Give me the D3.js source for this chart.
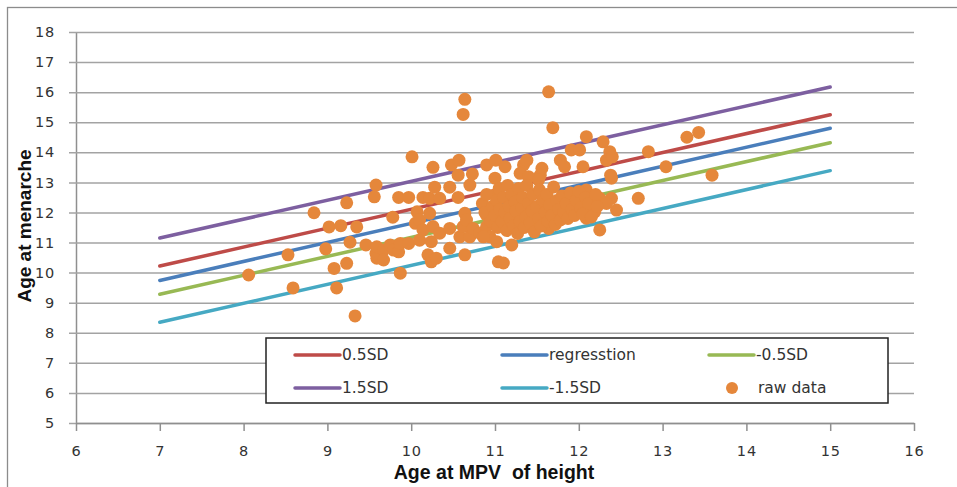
<!DOCTYPE html>
<meta charset="utf-8">
<style>
body { margin: 0; background: #fff; }
text { font-family: "DejaVu Sans", sans-serif; fill: #333; }
.tick text { font-size: 14.5px; letter-spacing: 0.8px; }
.title { font-family: "Liberation Sans", sans-serif; font-weight: bold; fill: #111; white-space: pre; }
.legend text { font-size: 15.5px; }
</style>
<svg width="957" height="487"></svg>
<script src="https://d3js.org/d3.v7.min.js"></script>
<script>

// fitted lines, drawn from age 7 to 15
var lineX = [7, 15];
var sd15 = [11.15, 16.17];
var sd05 = [10.22, 15.25];
var regress = [9.74, 14.80];
var sdm05 = [9.28, 14.32];
var sdm15 = [8.35, 13.39];

// raw data points (age at MPV of height, age at menarche)
var rawX = [8.06, 8.53, 8.59, 8.84, 8.98, 9.02, 9.08, 9.11, 9.16, 9.23, 9.23, 9.27, 9.33, 9.35, 9.46,
  9.58, 9.56, 9.58, 9.59, 9.59, 9.67, 9.67, 9.75, 9.78, 9.79, 9.85, 9.85, 9.87, 9.87, 9.97, 9.97,
  10.01, 10.05, 10.07, 10.10, 10.10, 10.14, 10.14, 10.20, 10.22, 10.22, 10.24, 10.24, 10.26, 10.26,
  10.28, 10.30, 10.34, 10.34, 10.46, 10.46, 10.46, 10.48, 10.56, 10.56, 10.57, 10.58, 10.62, 10.64,
  10.62, 10.64, 10.64, 10.66, 10.70, 10.70, 10.73, 10.74, 10.82, 10.90, 10.90, 10.90, 10.94, 10.98,
  11.00, 11.00, 11.01, 11.02, 11.04, 11.10, 11.12, 11.20, 11.34, 11.38, 11.56, 11.54, 11.64, 11.69,
  11.64, 11.78, 11.83, 11.91, 12.01, 12.05, 12.09, 12.29, 12.33, 12.37, 12.40, 12.38, 12.39, 12.83,
  13.29, 13.43, 13.04, 13.59, 12.09, 12.01, 12.25, 12.39, 12.33, 12.45, 12.71, 12.11, 12.19, 12.09,
  12.25, 11.30, 10.86, 11.40, 11.52,
  10.85, 10.88, 10.90, 10.95, 10.97, 11.00, 11.02, 11.03, 11.05, 11.06,
  11.08, 11.10, 11.12, 11.14, 11.15, 11.17, 11.18, 11.20, 11.22, 11.24, 11.25, 11.27, 11.28, 11.30,
  11.32, 11.33, 11.35, 11.37, 11.38, 11.40, 11.42, 11.44, 11.45, 11.47, 11.50, 11.52, 11.53, 11.55,
  11.57, 11.60, 11.62, 11.63, 11.65, 11.68, 11.70, 11.72, 11.74, 11.76, 11.78, 11.80, 11.82, 11.85,
  11.87, 11.90, 11.92, 11.95, 11.97, 12.00, 12.02, 12.05, 12.08, 12.12, 12.15, 12.20, 12.22];
var rawY = [9.92, 10.59, 9.49, 11.99, 10.79, 11.52, 10.14, 9.49, 11.56, 12.32, 10.31, 11.01, 8.56, 11.52, 10.92,
  12.91, 12.52, 10.64, 10.48, 10.86, 10.75, 10.42, 10.92, 11.84, 10.75, 12.50, 10.69, 10.97, 9.98, 12.50, 10.97,
  13.85, 11.64, 12.02, 11.75, 11.08, 12.50, 11.42, 10.59, 12.47, 11.97, 11.03, 10.36, 13.50, 11.53,
  12.84, 10.48, 12.47, 11.31, 12.84, 11.47, 10.81, 13.58, 13.24, 12.50, 13.74, 11.19, 15.26, 15.76,
  11.53, 11.97, 10.59, 11.75, 12.91, 11.19, 13.28, 11.47, 11.31, 13.58, 11.91, 11.53, 11.19, 11.86,
  12.58, 13.14, 13.74, 11.03, 10.36, 10.32, 13.52, 10.92, 13.58, 13.74, 13.47, 13.24, 16.01, 14.82,
  11.47, 13.74, 13.52, 14.08, 14.08, 13.52, 14.52, 14.35, 13.74, 14.02, 13.85, 13.24, 13.14, 14.02,
  14.50, 14.66, 13.52, 13.24, 12.75, 12.52, 12.47, 12.47, 12.30, 12.08, 12.47, 12.19, 12.02, 11.81,
  11.42, 13.30, 11.19, 13.19, 13.08,
  12.30, 12.00, 12.60, 11.70, 12.20, 11.90, 12.40, 11.50, 12.80, 12.10,
  11.70, 12.50, 12.00, 11.40, 12.90, 12.20, 11.80, 12.60, 11.55, 12.35, 12.05, 11.30, 12.80, 11.70,
  12.15, 12.50, 11.50, 11.85, 12.90, 12.30, 11.65, 12.05, 12.60, 11.35, 12.20, 11.80, 12.75, 11.55,
  12.40, 12.00, 12.60, 11.70, 12.25, 11.90, 12.85, 11.60, 12.40, 12.10, 11.75, 12.55, 12.00, 12.30,
  11.80, 12.65, 12.10, 11.90, 12.40, 12.70, 12.15, 11.95, 12.50, 12.30, 11.85, 12.60, 12.20];

var xTicks = d3.range(6, 17);
var yTicks = d3.range(5, 19);

var series = [
  {name: "0.5SD", ys: sd05, color: "#BE4B48"},
  {name: "regresstion", ys: regress, color: "#4A7EBB"},
  {name: "-0.5SD", ys: sdm05, color: "#98B954"},
  {name: "1.5SD", ys: sd15, color: "#7D5FA0"},
  {name: "-1.5SD", ys: sdm15, color: "#46A9C3"}
];
var dotColor = "#E5873B";

var svg = d3.select("svg");

var x = d3.scaleLinear().domain([6, 16]).range([76, 914]),
    y = d3.scaleLinear().domain([5, 18]).range([423, 32]);

// chart border (runs off the right and bottom edge)
svg.append("rect")
    .attr("x", 7.5).attr("y", 7.5)
    .attr("width", 980).attr("height", 500)
    .attr("fill", "none")
    .attr("stroke", "#8c8c8c")
    .attr("stroke-width", 1.3);

// y axis + gridlines
var gy = svg.append("g")
    .attr("transform", "translate(76,0)")
    .call(d3.axisLeft(y).tickValues(yTicks).tickSizeInner(-838).tickSizeOuter(0).tickPadding(21));
gy.selectAll(".tick line").attr("x1", -7).attr("stroke", "#a3a3a3").attr("stroke-width", 1.5);
gy.select(".domain").attr("stroke", "#8f8f8f").attr("stroke-width", 1.5);

// x axis
var gx = svg.append("g")
    .attr("transform", "translate(0,423)")
    .call(d3.axisBottom(x).tickValues(xTicks).tickSize(8).tickSizeOuter(0).tickPadding(15));
gx.selectAll(".tick line").attr("stroke", "#8f8f8f").attr("stroke-width", 1.5);
gx.select(".domain").attr("stroke", "#8f8f8f").attr("stroke-width", 1.5);

// axis titles
svg.append("text")
    .attr("class", "title")
    .attr("x", 494).attr("y", 479)
    .attr("text-anchor", "middle")
    .style("font-size", "19.5px")
    .text("Age at MPV  of height");

svg.append("text")
    .attr("class", "title")
    .attr("transform", "translate(31,226) rotate(-90)")
    .attr("text-anchor", "middle")
    .style("font-size", "19px")
    .text("Age at menarche");

// fitted lines
var line = d3.line()
    .x((d, i) => x(lineX[i]))
    .y(d => y(d));

svg.append("g").selectAll("path")
  .data(series)
  .join("path")
    .attr("d", d => line(d.ys))
    .attr("fill", "none")
    .attr("stroke", d => d.color)
    .attr("stroke-width", 3.5)
    .attr("stroke-linecap", "round");

// raw data
svg.append("g").selectAll("circle")
  .data(rawX)
  .join("circle")
    .attr("cx", d => x(d))
    .attr("cy", (d, i) => y(rawY[i]))
    .attr("r", 6.5)
    .attr("fill", dotColor);

// legend
var legend = svg.append("g").attr("class", "legend");
legend.append("rect")
    .attr("x", 266).attr("y", 338)
    .attr("width", 622).attr("height", 65)
    .attr("fill", "#fff")
    .attr("stroke", "#222")
    .attr("stroke-width", 1.5);

var colX = [295, 502, 709],
    rowY = [355, 388];
var items = series.concat([{name: "raw data", dot: true}]);

items.forEach(function(d, i) {
  var cx = colX[i % 3], cy = rowY[Math.floor(i / 3)];
  if (d.dot) {
    legend.append("circle")
        .attr("cx", cx + 23).attr("cy", cy)
        .attr("r", 6)
        .attr("fill", dotColor);
  } else {
    legend.append("line")
        .attr("x1", cx).attr("x2", cx + 45)
        .attr("y1", cy).attr("y2", cy)
        .attr("stroke", d.color)
        .attr("stroke-width", 3.5)
        .attr("stroke-linecap", "round");
  }
  legend.append("text")
      .attr("x", d.dot ? cx + 49 : cx + 47)
      .attr("y", cy)
      .attr("dy", "0.35em")
      .text(d.name);
});

</script>
